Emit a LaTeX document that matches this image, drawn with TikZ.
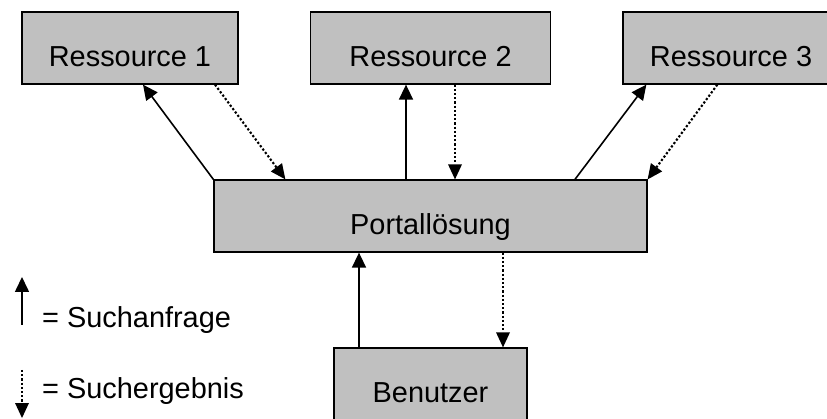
\documentclass[tikz,border=0pt]{standalone}
\usepackage{fontspec}
\setmainfont{Liberation Sans}
\usetikzlibrary{arrows.meta}
\definecolor{boxgray}{HTML}{C0C0C0}
\tikzset{
  box/.style={draw=black, line width=1.3pt, fill=boxgray, rectangle, inner sep=0pt,
    text height=54.5pt, text depth=17.5pt, minimum height=72pt,
    font=\fontsize{28.9}{34}\selectfont},
  query/.style={line width=1.6pt, -{Triangle[length=15pt,width=14pt]}},
  result/.style={line width=2.1pt, dash pattern=on 2.2pt off 2pt, -{Triangle[length=15pt,width=14pt,line width=0pt]}},
  legendtext/.style={anchor=base west, inner sep=0pt, font=\fontsize{28.9}{34}\selectfont}
}
\begin{document}
\begin{tikzpicture}[x=1pt, y=-1pt]
  \useasboundingbox (0,0) rectangle (827,419);
  \clip (0,0) rectangle (827,419);

  % resource boxes, portal and user
  \node[box, minimum width=216pt] (r1) at (130,48) {Ressource 1};
  \node[box, minimum width=240pt] (r2) at (430.5,48) {Ressource 2};
  \node[box, minimum width=216pt] (r3) at (731,48) {Ressource 3};
  \node[box, minimum width=433pt] (portal) at (430.5,216) {Portallösung};
  \node[box, minimum width=193pt] (user) at (430.5,384) {Benutzer};

  % portal <-> resource 1
  \draw[query] (portal.north west) -- ([xshift=13pt]r1.south);
  \draw[result] ([xshift=85pt]r1.south) -- ([xshift=72pt]portal.north west);
  % portal <-> resource 2
  \draw[query] ([xshift=-24.5pt]portal.north) -- ([xshift=-24.5pt]r2.south);
  \draw[result] ([xshift=24.5pt]r2.south) -- ([xshift=24.5pt]portal.north);
  % portal <-> resource 3
  \draw[query] ([xshift=144.5pt]portal.north) -- ([xshift=24pt]r3.south west);
  \draw[result] ([xshift=95pt]r3.south west) -- (portal.north east);
  % user <-> portal
  \draw[query] ([xshift=-71.5pt]user.north) -- ([xshift=-71.5pt]portal.south);
  \draw[result] ([xshift=72.5pt]portal.south) -- ([xshift=72.5pt]user.north);

  % legend
  \coordinate (qa) at (22,325);
  \coordinate (qb) at (22,277);
  \coordinate (ra) at (22,370);
  \coordinate (rb) at (22,418);
  \draw[query] (qa) -- (qb);
  \draw[result] (ra) -- (rb);
  \node[legendtext] (qt) at (42,328) {= Suchanfrage};
  \node[legendtext] (rt) at (42,398) {= Suchergebnis};
\end{tikzpicture}
\end{document}
